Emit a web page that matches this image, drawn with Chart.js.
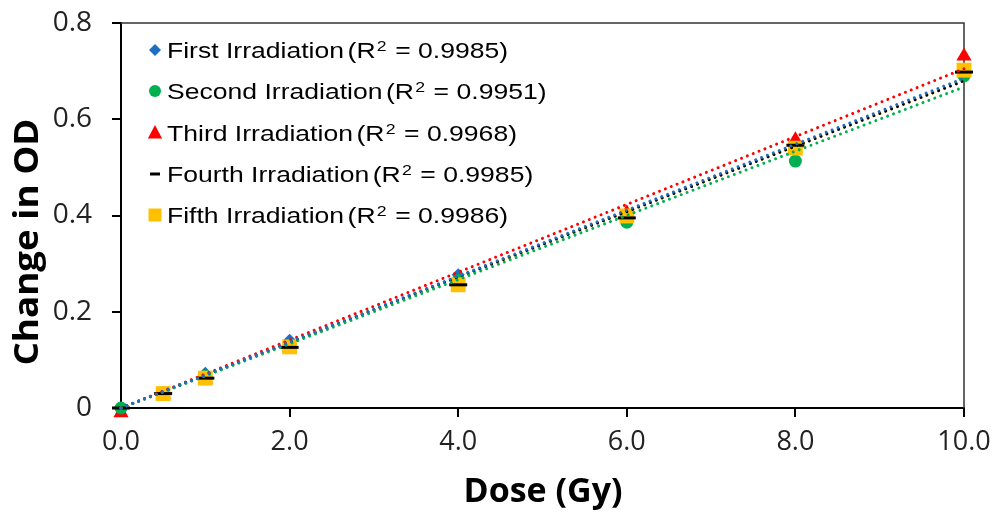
<!DOCTYPE html>
<html>
<head>
<meta charset="utf-8">
<script src="https://cdn.jsdelivr.net/npm/chart.js@4.4.1/dist/chart.umd.min.js"></script>
<style>
  html, body { margin: 0; padding: 0; background: #ffffff; }
  #wrap { width: 1005px; height: 512px; position: relative; }
</style>
</head>
<body>
<div id="wrap"><canvas id="c" width="1005" height="512"></canvas></div>
<script>
// ---- data ----
const doses = [0, 0.5, 1, 2, 4, 6, 8, 10];
const firstIrr  = [0, 0.030, 0.072, 0.141, 0.277, 0.400, 0.540, 0.700];
const secondIrr = [0, 0.030, 0.066, 0.130, 0.265, 0.386, 0.513, 0.690];
const thirdIrr  = [-0.01, 0.028, 0.060, 0.125, 0.262, 0.405, 0.557, 0.731];
const fourthIrr = [0, 0.030, 0.062, 0.126, 0.256, 0.395, 0.546, 0.698];
const fifthIrr  = [null, 0.030, 0.062, 0.127, 0.256, 0.399, 0.540, 0.702];
// linear trend lines (through origin), value at dose 0 and at dose 10
const trendStart = [0, 0, 0, 0, 0];
const trendEnd   = [0.685, 0.667, 0.705, 0.680, 0.680];
const seriesNames = ['First Irradiation', 'Second Irradiation', 'Third Irradiation', 'Fourth Irradiation', 'Fifth Irradiation'];
const r2Values = ['0.9985', '0.9951', '0.9968', '0.9985', '0.9986'];
const xTickLabels = ['0.0', '2.0', '4.0', '6.0', '8.0', '10.0'];
const yTickLabels = ['0', '0.2', '0.4', '0.6', '0.8'];
const xTitle = 'Dose (Gy)';
const yTitle = 'Change in OD';

// ---- styles ----
const seriesValues = [firstIrr, secondIrr, thirdIrr, fourthIrr, fifthIrr];
const colors = ['#1f6fc0', '#00b050', '#ff0000', '#000000', '#ffc000'];
const markerStyles = ['rectRot', 'circle', 'triangle', 'line', 'rect'];
const markerRadius = [6.5, 6.5, 8.8, 9, 10.5];
const drawOrder = [4, 3, 5, 1, 2];

const datasets = [];
seriesValues.forEach((vals, i) => {
  datasets.push({
    type: 'scatter',
    label: seriesNames[i],
    data: doses.map((d, k) => ({ x: d, y: vals[k] })),
    pointStyle: markerStyles[i],
    pointRadius: markerRadius[i],
    pointHoverRadius: markerRadius[i],
    backgroundColor: colors[i],
    borderColor: colors[i],
    pointBorderWidth: markerStyles[i] === 'line' ? 3 : 0,
    showLine: false,
    clip: false,
    order: drawOrder[i]
  });
});
seriesValues.forEach((vals, i) => {
  datasets.push({
    type: 'line',
    label: seriesNames[i] + ' trend',
    data: [{ x: doses[0], y: trendStart[i] }, { x: doses[doses.length - 1], y: trendEnd[i] }],
    borderColor: colors[i],
    borderWidth: 3,
    borderDash: [0.01, 6.3],
    borderCapStyle: 'round',
    pointRadius: 0,
    fill: false,
    tension: 0,
    clip: false,
    order: 0
  });
});

const framePlugin = {
  id: 'frame',
  beforeDatasetsDraw(chart) {
    const a = chart.chartArea, ctx = chart.ctx;
    ctx.save();
    ctx.strokeStyle = '#333333';
    ctx.lineWidth = 1.5;
    ctx.beginPath();
    ctx.moveTo(a.left, a.top);
    ctx.lineTo(a.right, a.top);
    ctx.lineTo(a.right, a.bottom);
    ctx.stroke();
    ctx.restore();
  }
};

const titlesPlugin = {
  id: 'titles',
  afterDraw(chart) {
    const ctx = chart.ctx;
    ctx.save();
    ctx.fillStyle = '#000';
    ctx.font = 'bold 34px "Open Sans"';
    ctx.textAlign = 'center';
    ctx.textBaseline = 'middle';
    ctx.fillText(xTitle, 543, 492);
    ctx.translate(28, 242);
    ctx.rotate(-Math.PI / 2);
    ctx.scale(1.08, 1);
    ctx.fillText(yTitle, 0, 0);
    ctx.restore();
  }
};

function drawMarker(ctx, style, x, y, r, color) {
  ctx.fillStyle = color;
  ctx.strokeStyle = color;
  ctx.beginPath();
  if (style === 'rectRot') {
    ctx.moveTo(x, y - r); ctx.lineTo(x + r, y); ctx.lineTo(x, y + r); ctx.lineTo(x - r, y); ctx.closePath(); ctx.fill();
  } else if (style === 'circle') {
    ctx.arc(x, y, r, 0, Math.PI * 2); ctx.fill();
  } else if (style === 'triangle') {
    ctx.moveTo(x, y - r); ctx.lineTo(x + r * 0.95, y + r * 0.8); ctx.lineTo(x - r * 0.95, y + r * 0.8); ctx.closePath(); ctx.fill();
  } else if (style === 'line') {
    ctx.lineWidth = 3; ctx.moveTo(x - r, y); ctx.lineTo(x + r, y); ctx.stroke();
  } else {
    ctx.rect(x - r, y - r, 2 * r, 2 * r); ctx.fill();
  }
}

const legendPlugin = {
  id: 'innerLegend',
  afterDraw(chart) {
    const ctx = chart.ctx;
    const rowY = [50, 91, 132.5, 174, 215];
    const legR = [6, 6, 7.5, 5, 6.5];
    const sx = 1.18;
    ctx.save();
    ctx.textBaseline = 'alphabetic';
    ctx.textAlign = 'left';
    seriesNames.forEach((name, i) => {
      const cy = rowY[i];
      const base = cy + 8;
      drawMarker(ctx, markerStyles[i], 155, cy, legR[i], colors[i]);
      ctx.save();
      ctx.translate(167, base);
      ctx.scale(sx, 1);
      ctx.fillStyle = '#000';
      ctx.font = '22.5px "Liberation Sans"';
      let x = 0;
      ctx.fillText(name, x, 0);
      x += ctx.measureText(name).width + 3;
      ctx.fillText('(R', x, 0);
      x += ctx.measureText('(R').width + 1;
      ctx.font = '15px "Liberation Sans"';
      ctx.fillText('2', x, -7);
      x += ctx.measureText('2').width + 1;
      ctx.font = '22.5px "Liberation Sans"';
      ctx.fillText(' = ' + r2Values[i] + ')', x, 0);
      ctx.restore();
    });
    ctx.restore();
  }
};

new Chart(document.getElementById('c'), {
  type: 'scatter',
  data: { datasets },
  plugins: [framePlugin, titlesPlugin, legendPlugin],
  options: {
    responsive: false,
    animation: false,
    events: [],
    layout: { padding: { left: 0, right: 41, top: 23, bottom: 0 } },
    plugins: { legend: { display: false }, tooltip: { enabled: false } },
    scales: {
      x: {
        type: 'linear', min: 0, max: 10,
        afterFit(s) { s.height = 104; s.paddingLeft = 0; s.paddingRight = 0; },
        afterBuildTicks(s) { s.ticks = xTickLabels.map((t, i) => ({ value: i * 2 })); },
        ticks: {
          callback: (v, i) => xTickLabels[i],
          font: { family: '"Open Sans"', size: 27 },
          color: '#222',
          padding: 9,
          maxRotation: 0,
          autoSkip: false
        },
        grid: { display: true, drawOnChartArea: false, color: '#000', lineWidth: 2, tickLength: 9, tickWidth: 2 },
        border: { display: true, color: '#000', width: 2 }
      },
      y: {
        type: 'linear', min: 0, max: 0.8,
        afterFit(s) { s.width = 121; s.paddingTop = 0; s.paddingBottom = 0; },
        afterBuildTicks(s) { s.ticks = yTickLabels.map((t, i) => ({ value: i * 0.2 })); },
        ticks: {
          callback: (v, i) => yTickLabels[i],
          font: { family: '"Open Sans"', size: 28 },
          color: '#222',
          padding: 20,
          autoSkip: false
        },
        grid: { display: true, drawOnChartArea: false, color: '#000', lineWidth: 2, tickLength: 9, tickWidth: 2 },
        border: { display: true, color: '#000', width: 2 }
      }
    }
  }
});
</script>
</body>
</html>
